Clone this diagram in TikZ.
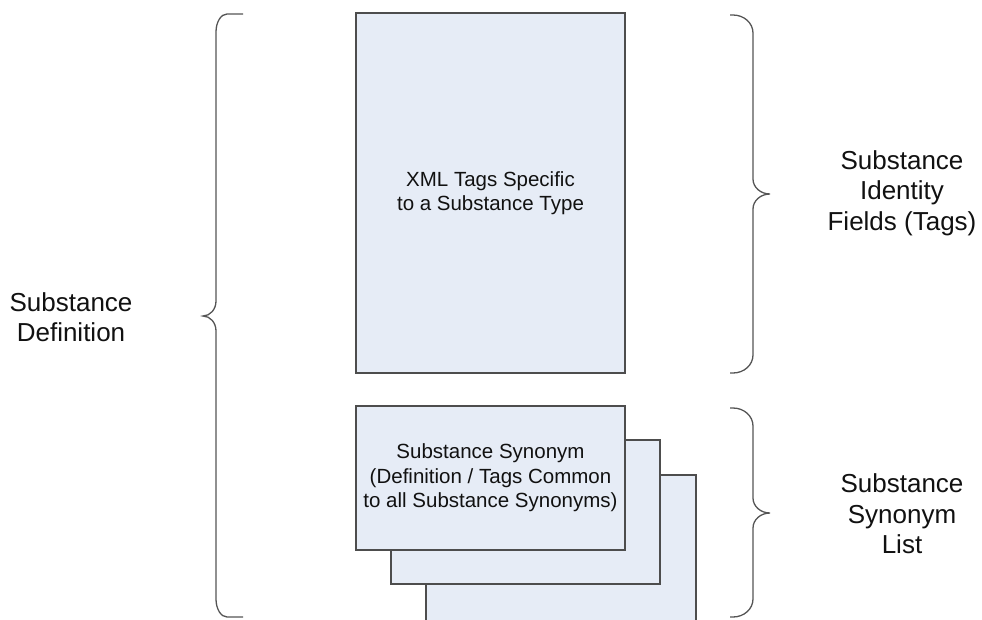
\documentclass[tikz,border=0pt]{standalone}
\usepackage{fontspec}
\setmainfont{Liberation Sans}
\definecolor{boxfill}{HTML}{E6ECF6}
\definecolor{boxline}{HTML}{4D4D4D}
\definecolor{braceline}{HTML}{555555}
\definecolor{txt}{HTML}{111111}
\tikzset{
  blockbox/.style={draw=boxline, fill=boxfill, line width=1.3pt, rectangle,
    inner sep=0pt, outer sep=0pt, minimum width=269pt, text=txt, align=center,
    font=\fontsize{20.5}{24.5}\selectfont},
  sidelabel/.style={text=txt, align=center, inner sep=0pt,
    font=\fontsize{26}{30.5}\selectfont},
  bracepath/.style={draw=braceline, line width=1.3pt}
}
\begin{document}
\begin{tikzpicture}[x=1pt,y=-1pt]
\useasboundingbox (0,0) rectangle (982,619);
\fill[white] (0,0) rectangle (982,619);
\begin{scope}
\clip (0,0) rectangle (982,619);
% tall box
\node[blockbox, minimum height=360pt] (tall) at (490.5,193) {XML Tags Specific\\to a Substance Type};
% stacked synonym boxes (back to front)
\node[blockbox, minimum width=270pt, minimum height=150pt] (syn3) at (561,550) {};
\node[blockbox, minimum height=144pt] (syn2) at (525.5,512) {};
\node[blockbox, minimum height=144pt] (syn1) at (490.5,478) {Substance Synonym\\(Definition / Tags Common\\to all Substance Synonyms)};
\end{scope}
% left brace
\draw[bracepath] (243,14) -- (227,14) .. controls (221,14) and (216,22) .. (216,32)
  -- (216,301) .. controls (216,309.3) and (210.2,316) .. (203,316)
  .. controls (210.2,316) and (216,322.7) .. (216,331)
  -- (216,599) .. controls (216,609) and (221,617) .. (227,617) -- (243,617);
% upper right brace
\draw[bracepath] (730,15) -- (733,15) .. controls (744,15) and (753,23) .. (753,33)
  -- (753,179) .. controls (753,187.3) and (760.6,194) .. (770,194)
  .. controls (760.6,194) and (753,200.7) .. (753,209)
  -- (753,355) .. controls (753,365) and (744,373) .. (733,373) -- (730,373);
% lower right brace
\draw[bracepath] (730,408) -- (733,408) .. controls (744,408) and (753,416) .. (753,426)
  -- (753,498) .. controls (753,506.3) and (760.6,513) .. (770,513)
  .. controls (760.6,513) and (753,519.7) .. (753,528)
  -- (753,599) .. controls (753,609) and (744,617) .. (733,617) -- (730,617);
% labels
\node[sidelabel] (defn) at (71,317) {Substance\\Definition};
\node[sidelabel] (ident) at (902,193) {Substance\\Identity\\Fields (Tags)};
\node[sidelabel] (synlist) at (902,514) {Substance\\Synonym\\List};
\end{tikzpicture}
\end{document}
